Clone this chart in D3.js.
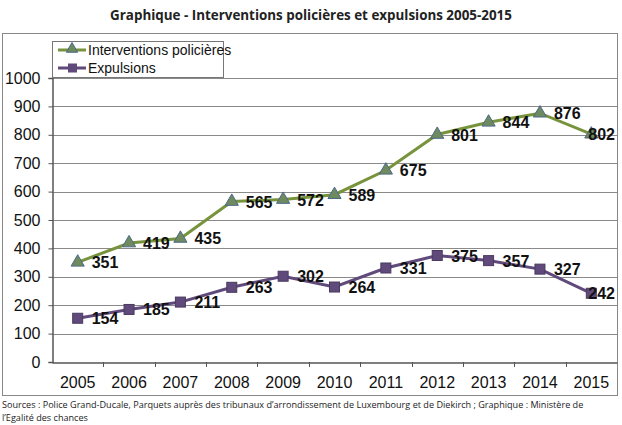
<!DOCTYPE html>
<html><head><meta charset="utf-8">
<script src="https://cdn.jsdelivr.net/npm/d3@7"></script>
<style>body{margin:0;background:#fff}</style>
</head><body>
<svg id="c" width="622" height="425"></svg>
<script>
const years = ["2005","2006","2007","2008","2009","2010","2011","2012","2013","2014","2015"];
const interventions = [351,419,435,565,572,589,675,801,844,876,802];
const expulsions = [154,185,211,263,302,264,331,375,357,327,242];
const yTicks = [0,100,200,300,400,500,600,700,800,900,1000];
const seriesNames = ["Interventions policières","Expulsions"];
const title = "Graphique - Interventions policières et expulsions 2005-2015";
const source1 = "Sources : Police Grand-Ducale, Parquets auprès des tribunaux d’arrondissement de Luxembourg et de Diekirch ; Graphique : Ministère de";
const source2 = "l’Egalité des chances";

const svg = d3.select("#c");
const L = 52, R = 617, T = 78, B = 362;
const x = d3.scaleBand().domain(years).range([L, R]);
const y = d3.scaleLinear().domain([0,1000]).range([B, T]);

svg.append("text").attr("x", 311).attr("y", 20).attr("text-anchor","middle")
  .attr("font-family","Open Sans, sans-serif").attr("font-weight","bold").attr("font-size",13.4)
  .attr("fill","#222").text(title);

// outer frame
svg.append("rect").attr("x",2.5).attr("y",33.5).attr("width",615).attr("height",362)
  .attr("fill","none").attr("stroke","#888").attr("stroke-width",1);

// grid
svg.append("g").selectAll("line").data(yTicks.slice(1)).join("line")
  .attr("x1",L).attr("x2",R).attr("y1",d=>Math.round(y(d))+0.5).attr("y2",d=>Math.round(y(d))+0.5)
  .attr("stroke","#8a8a8a").attr("stroke-width",1);

// y axis
const ya = svg.append("g").attr("transform",`translate(${L+0.5},0)`)
  .call(d3.axisLeft(y).tickValues(yTicks).tickSize(4).tickPadding(8).tickFormat(d3.format("d")));
ya.select(".domain").attr("stroke","#555").attr("stroke-width",1.5);
ya.selectAll(".tick line").attr("stroke","#555");
ya.selectAll("text").attr("font-family","Liberation Sans, Arial, sans-serif").attr("font-size",16).attr("fill","#111");

// x axis
const xa = svg.append("g").attr("transform",`translate(0,${B+0.5})`)
  .call(d3.axisBottom(x).tickSize(0).tickPadding(14));
xa.select(".domain").attr("stroke","#555").attr("stroke-width",1.5);
xa.selectAll("text").attr("font-family","Liberation Sans, Arial, sans-serif").attr("font-size",16).attr("fill","#111");
svg.append("g").selectAll("line").data(years.slice(1)).join("line")
  .attr("x1",d=>Math.round(x(d))+0.5).attr("x2",d=>Math.round(x(d))+0.5)
  .attr("y1",B).attr("y2",B+5).attr("stroke","#555");

const cx = d => x(d) + x.bandwidth()/2;
const line = d3.line().x((d,i)=>cx(years[i])).y(d=>y(d));

const green = "#77933c", purple = "#604a7b";
svg.append("path").datum(interventions).attr("d",line).attr("fill","none").attr("stroke",green).attr("stroke-width",3);
svg.append("path").datum(expulsions).attr("d",line).attr("fill","none").attr("stroke",purple).attr("stroke-width",3);

const tri = d3.symbol().type(d3.symbolTriangle).size(75);
svg.append("g").selectAll("path").data(interventions).join("path")
  .attr("d",tri).attr("transform",(d,i)=>`translate(${cx(years[i])},${y(d)})`)
  .attr("fill","#6f8a5e").attr("stroke","#4a6a8a").attr("stroke-width",1);
svg.append("g").selectAll("rect").data(expulsions).join("rect")
  .attr("x",(d,i)=>cx(years[i])-5).attr("y",d=>y(d)-5).attr("width",10).attr("height",10)
  .attr("fill",purple).attr("stroke","#4a3a60").attr("stroke-width",1);

function labels(data){
  svg.append("g").selectAll("text").data(data).join("text")
    .attr("x",(d,i)=> i===data.length-1 ? cx(years[i])-3 : cx(years[i])+14)
    .attr("y",d=>y(d)+6)
    .attr("font-family","Liberation Sans, Arial, sans-serif").attr("font-weight","bold").attr("font-size",16)
    .attr("fill","#111").text(d=>d);
}
labels(interventions);
labels(expulsions);

// legend
const lg = svg.append("g");
lg.append("rect").attr("x",52.5).attr("y",41.5).attr("width",171).attr("height",36)
  .attr("fill","#fff").attr("stroke","#777");
[[green,"tri"],[purple,"sq"]].forEach((s,i)=>{
  const yy = 50 + i*18;
  lg.append("line").attr("x1",58).attr("x2",86).attr("y1",yy).attr("y2",yy).attr("stroke",s[0]).attr("stroke-width",3);
  if(s[1]==="tri") lg.append("path").attr("d",d3.symbol().type(d3.symbolTriangle).size(55)).attr("transform",`translate(72,${yy-1})`).attr("fill","#6f8a5e").attr("stroke","#4a6a8a");
  else lg.append("rect").attr("x",68).attr("y",yy-4.5).attr("width",9).attr("height",9).attr("fill",purple);
  lg.append("text").attr("x",88).attr("y",yy+5).attr("font-family","Liberation Sans, Arial, sans-serif").attr("font-size",14).attr("fill","#111").text(seriesNames[i]);
});

// source
const src = svg.append("g").attr("font-family","Open Sans, sans-serif").attr("font-size",9.1).attr("fill","#222");
src.append("text").attr("x",2).attr("y",408).text(source1);
src.append("text").attr("x",2).attr("y",421).text(source2);
</script>
</body></html>
